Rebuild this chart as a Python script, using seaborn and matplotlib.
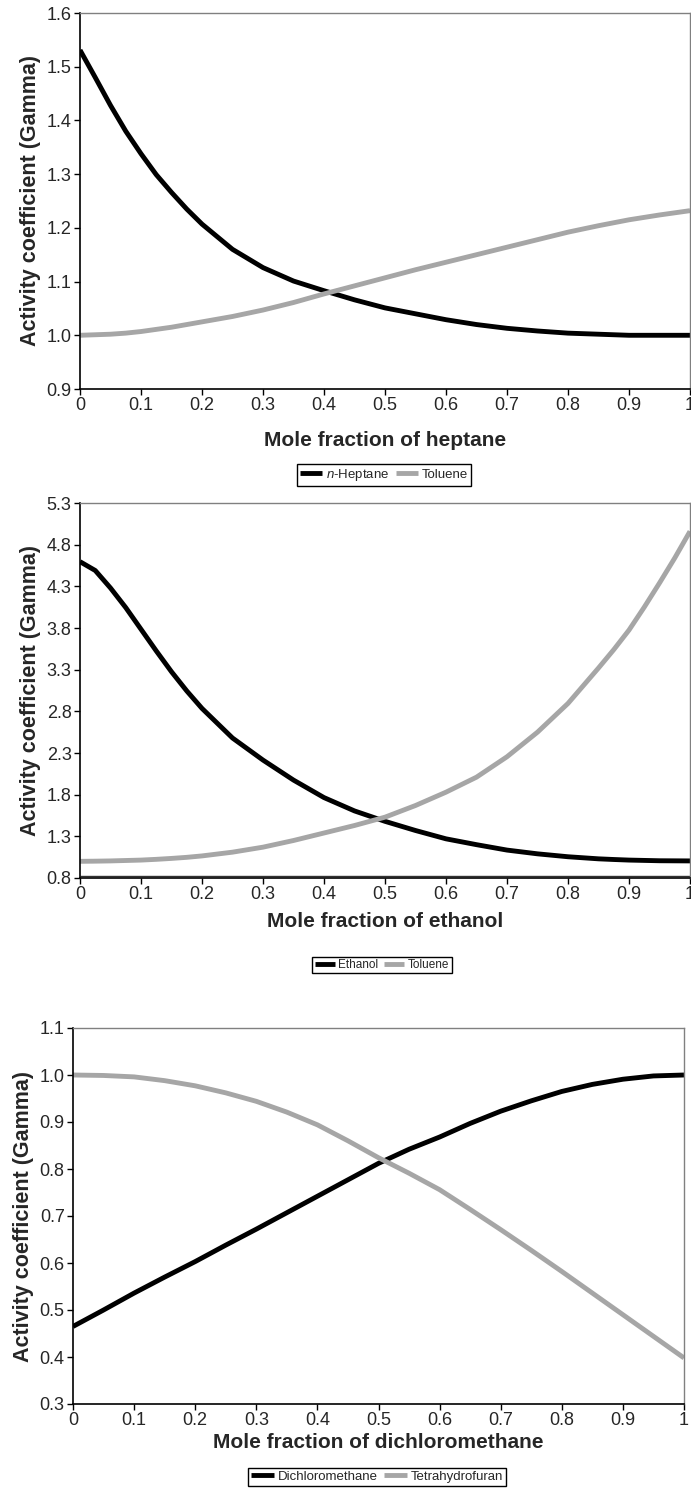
import numpy as np
import pandas as pd
import matplotlib
matplotlib.use("Agg")
import matplotlib.pyplot as plt
import seaborn as sns

# ---------------- data ----------------
x_frac1 = [0.0, 0.025, 0.05, 0.075, 0.1, 0.125, 0.15, 0.175, 0.2, 0.25, 0.3, 0.35, 0.4,
           0.45, 0.5, 0.55, 0.6, 0.65, 0.7, 0.75, 0.8, 0.85, 0.9, 0.95, 1.0]
heptane = [1.531, 1.480, 1.428, 1.380, 1.338, 1.299, 1.266, 1.235, 1.207, 1.160, 1.126, 1.101, 1.083,
           1.066, 1.051, 1.040, 1.029, 1.020, 1.013, 1.008, 1.004, 1.002, 1.0, 1.0, 1.0]
toluene_1 = [1.0, 1.001, 1.002, 1.004, 1.007, 1.011, 1.015, 1.02, 1.025, 1.035, 1.047, 1.061, 1.077,
             1.092, 1.107, 1.122, 1.136, 1.150, 1.164, 1.178, 1.192, 1.204, 1.215, 1.224, 1.232]

x_frac2 = [0.0, 0.025, 0.05, 0.075, 0.1, 0.125, 0.15, 0.175, 0.2, 0.25, 0.3, 0.35, 0.4, 0.45,
           0.5, 0.55, 0.6, 0.65, 0.7, 0.75, 0.8, 0.85, 0.875, 0.9, 0.925, 0.95, 0.975, 1.0]
ethanol = [4.596, 4.49, 4.28, 4.045, 3.785, 3.525, 3.275, 3.045, 2.835, 2.48, 2.215, 1.975, 1.765,
           1.605, 1.48, 1.37, 1.27, 1.2, 1.135, 1.09, 1.055, 1.03, 1.022, 1.015, 1.011, 1.007,
           1.006, 1.005]
toluene_2 = [1.0, 1.002, 1.005, 1.01, 1.015, 1.024, 1.035, 1.048, 1.065, 1.11, 1.17, 1.25, 1.34,
             1.43, 1.53, 1.67, 1.83, 2.01, 2.255, 2.55, 2.895, 3.32, 3.54, 3.775, 4.05, 4.34,
             4.64, 4.96]

x_frac3 = [0.0, 0.05, 0.1, 0.15, 0.2, 0.25, 0.3, 0.35, 0.4, 0.45, 0.5,
           0.55, 0.6, 0.65, 0.7, 0.75, 0.8, 0.85, 0.9, 0.95, 1.0]
dichloromethane = [0.465, 0.50, 0.536, 0.57, 0.603, 0.638, 0.672, 0.707, 0.742, 0.777, 0.812,
                   0.842, 0.868, 0.897, 0.923, 0.945, 0.965, 0.98, 0.991, 0.998, 1.0]
thf = [1.0, 0.999, 0.996, 0.988, 0.977, 0.962, 0.944, 0.921, 0.894, 0.86, 0.824,
       0.791, 0.756, 0.714, 0.671, 0.627, 0.582, 0.536, 0.49, 0.444, 0.398]

x_ticks = [0, 0.1, 0.2, 0.3, 0.4, 0.5, 0.6, 0.7, 0.8, 0.9, 1]
x_ticklabels = ["0", "0.1", "0.2", "0.3", "0.4", "0.5", "0.6", "0.7", "0.8", "0.9", "1"]
y_ticks1 = [0.9, 1.0, 1.1, 1.2, 1.3, 1.4, 1.5, 1.6]
y_ticks2 = [0.8, 1.3, 1.8, 2.3, 2.8, 3.3, 3.8, 4.3, 4.8, 5.3]
y_ticks3 = [0.3, 0.4, 0.5, 0.6, 0.7, 0.8, 0.9, 1.0, 1.1]

xlabels = ["Mole fraction of heptane", "Mole fraction of ethanol",
           "Mole fraction of dichloromethane"]
ylabel = "Activity coefficient (Gamma)"

# ---------------- style ----------------
sns.set_style("ticks")
plt.rcParams["font.family"] = ["Liberation Sans", "DejaVu Sans"]
plt.rcParams["mathtext.fontset"] = "custom"
plt.rcParams["mathtext.rm"] = "Liberation Sans"
plt.rcParams["mathtext.it"] = "Liberation Sans:italic"
plt.rcParams["lines.solid_joinstyle"] = "round"
plt.rcParams["lines.solid_capstyle"] = "butt"

BLACK = "#000000"
GRAY = "#A6A6A6"
LW = 3.5
FAM = ["Liberation Sans", "DejaVu Sans"]
W, H = 691, 1488
fig = plt.figure(figsize=(W / 100, H / 100), dpi=100)


def add_ax(left, top, right, bottom):
    return fig.add_axes([left / W, 1 - bottom / H, (right - left) / W, (bottom - top) / H])


def style_ax(ax, yt, ylim, xlabel, xlabpad):
    ax.set_xlim(0, 1)
    ax.set_ylim(*ylim)
    ax.set_xticks(x_ticks)
    ax.set_xticklabels(x_ticklabels, family=FAM, fontsize=13)
    ax.set_yticks(yt)
    ax.set_yticklabels([f"{v:.1f}" for v in yt], family=FAM, fontsize=13)
    ax.tick_params(axis="both", direction="out", length=4, width=1, color="black", pad=2)
    for s in ["left", "bottom"]:
        ax.spines[s].set_color("black")
        ax.spines[s].set_linewidth(1.2)
    for s in ["top", "right"]:
        ax.spines[s].set_color("#808080")
        ax.spines[s].set_linewidth(1.0)
    ax.set_xlabel(xlabel, fontsize=15, fontweight="bold", family=FAM, labelpad=xlabpad)
    ax.set_ylabel(ylabel, fontsize=15.5, fontweight="bold", family=FAM, labelpad=4)


def add_legend(ax, cx, cy, fs):
    leg = ax.legend(loc="center", bbox_to_anchor=(cx / W, 1 - cy / H), bbox_transform=fig.transFigure,
                    ncol=2, frameon=True, fancybox=False, framealpha=1, edgecolor="black",
                    prop={"family": FAM, "size": fs}, handlelength=1.7, handletextpad=0.3,
                    columnspacing=0.5, borderpad=0.2, borderaxespad=0)
    leg.get_frame().set_linewidth(1.0)


# Panel 1
ax1 = add_ax(80, 13, 690, 389)
d1 = pd.DataFrame({"x": x_frac1, "hep": heptane, "tol": toluene_1})
sns.lineplot(data=d1, x="x", y="hep", ax=ax1, color=BLACK, lw=LW, label=r"$\it{n}$-Heptane")
sns.lineplot(data=d1, x="x", y="tol", ax=ax1, color=GRAY, lw=LW, label="Toluene")
style_ax(ax1, y_ticks1, (0.9, 1.6), xlabels[0], 12)
add_legend(ax1, 384, 475, 9.5)

# Panel 2
ax2 = add_ax(80, 503, 690, 878)
d2 = pd.DataFrame({"x": x_frac2, "eth": ethanol, "tol": toluene_2})
sns.lineplot(data=d2, x="x", y="eth", ax=ax2, color=BLACK, lw=LW, label="Ethanol")
sns.lineplot(data=d2, x="x", y="tol", ax=ax2, color=GRAY, lw=LW, label="Toluene")
ax2.axhline(0.82, color="#333333", lw=1.0)
style_ax(ax2, y_ticks2, (0.8, 5.3), xlabels[1], 6)
add_legend(ax2, 382, 965, 8.5)

# Panel 3
ax3 = add_ax(73, 1028, 684, 1404)
d3 = pd.DataFrame({"x": x_frac3, "dcm": dichloromethane, "thf": thf})
sns.lineplot(data=d3, x="x", y="dcm", ax=ax3, color=BLACK, lw=LW, label="Dichloromethane")
sns.lineplot(data=d3, x="x", y="thf", ax=ax3, color=GRAY, lw=LW, label="Tetrahydrofuran")
style_ax(ax3, y_ticks3, (0.3, 1.1), xlabels[2], 3)
add_legend(ax3, 377, 1477, 9.5)

fig.savefig("out.png", dpi=100, facecolor="white")
